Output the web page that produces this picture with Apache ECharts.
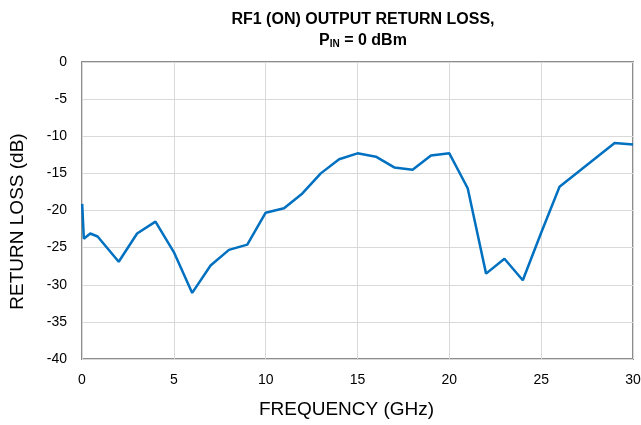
<!DOCTYPE html>
<html>
  <head>
    <meta charset="utf-8">
    <title>RF1 (ON) Output Return Loss</title>
    <script src="https://cdn.jsdelivr.net/npm/echarts@6/dist/echarts.min.js"></script>
    <style>
      body { margin: 0; background: #fff; }
    </style>
  </head>
  <body>
    <div id="main" style="width:641px;height:425px;"></div>
    <script>
// frequency (GHz) and return loss (dB)
var freqGHz = [0.01, 0.1, 0.45, 0.85, 2, 3, 4, 5, 6, 7, 8, 9, 10, 11, 12, 13, 14, 15, 16, 17, 18, 19, 20, 21, 22, 23, 24, 25, 26, 29, 30];
var returnLoss = [-19.1, -23.8, -23.1, -23.5, -26.9, -23.1, -21.5, -25.6, -31.1, -27.4, -25.3, -24.6, -20.3, -19.7, -17.7, -15.0, -13.1, -12.3, -12.75, -14.2, -14.5, -12.6, -12.3, -17.0, -28.5, -26.5, -29.4, -23.0, -16.8, -10.9, -11.1];

var xTicks = [0, 5, 10, 15, 20, 25, 30];
var yTicks = [0, -5, -10, -15, -20, -25, -30, -35, -40];

var points = freqGHz.map(function (f, i) { return [f, returnLoss[i]]; });

var myChart = echarts.init(document.getElementById('main'));
myChart.setOption({
    animation: false,
    textStyle: { fontFamily: 'Liberation Sans, Arial, sans-serif' },
    title: {
        text: 'RF1 (ON) OUTPUT RETURN LOSS,\n{p|P}{sub|IN}{p| = 0 dBm}',
        left: 358,
        textAlign: 'center',
        top: 4,
        textStyle: {
            fontSize: 16,
            fontWeight: 'bold',
            color: '#000',
            lineHeight: 21,
            rich: {
                p: { fontSize: 16, fontWeight: 'bold', color: '#000', lineHeight: 21 },
                sub: { fontSize: 10, fontWeight: 'bold', color: '#000', lineHeight: 21, padding: [8, 0, 0, 0] }
            }
        }
    },
    grid: {
        left: 82, right: 8, top: 62, bottom: 66,
        outerBoundsMode: 'none',
        show: true, borderColor: '#8c8c8c', borderWidth: 2
    },
    xAxis: {
        type: 'value',
        min: xTicks[0],
        max: xTicks[xTicks.length - 1],
        interval: 5,
        name: 'FREQUENCY (GHz)',
        nameLocation: 'middle',
        nameGap: 41,
        nameTextStyle: { fontSize: 19, color: '#000', padding: [0, 22, 0, 0] },
        axisLine: { show: false },
        axisTick: { show: false },
        axisLabel: { fontSize: 14, color: '#000', margin: 14 },
        splitLine: { lineStyle: { color: '#d9d9d9', width: 1 } }
    },
    yAxis: {
        type: 'value',
        min: yTicks[yTicks.length - 1],
        max: yTicks[0],
        interval: 5,
        name: 'RETURN LOSS (dB)',
        nameLocation: 'middle',
        nameGap: 55,
        nameTextStyle: { fontSize: 19, color: '#000', padding: [0, 22, 0, 0] },
        axisLine: { show: false },
        axisTick: { show: false },
        axisLabel: { fontSize: 14, color: '#000', margin: 15 },
        splitLine: { lineStyle: { color: '#d9d9d9', width: 1 } }
    },
    series: [{
        type: 'line',
        data: points,
        showSymbol: false,
        lineStyle: { color: '#0070c0', width: 2.5 },
        itemStyle: { color: '#0070c0' }
    }]
});
    </script>
  </body>
</html>
